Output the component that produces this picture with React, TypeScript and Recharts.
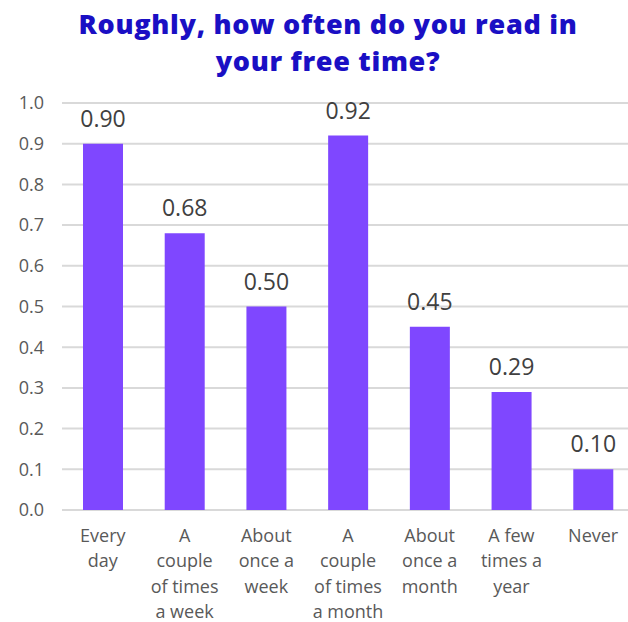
import React from "react";
import { BarChart, Bar, XAxis, YAxis, CartesianGrid, LabelList } from "recharts";

const categories = [
  "Every day",
  "A couple of times a week",
  "About once a week",
  "A couple of times a month",
  "About once a month",
  "A few times a year",
  "Never",
];
const categoryLines = [
  ["Every", "day"],
  ["A", "couple", "of times", "a week"],
  ["About", "once a", "week"],
  ["A", "couple", "of times", "a month"],
  ["About", "once a", "month"],
  ["A few", "times a", "year"],
  ["Never"],
];
const values = [0.9, 0.68, 0.5, 0.92, 0.45, 0.29, 0.1];
const yTicks = [0, 0.1, 0.2, 0.3, 0.4, 0.5, 0.6, 0.7, 0.8, 0.9, 1.0];
const titleLines = ["Roughly, how often do you read in", "your free time?"];

const data = categories.map((c, i) => ({ name: c, value: values[i], idx: i }));

const FONT = "'Open Sans', 'Noto Sans', sans-serif";

const XTick = (props: any) => {
  const { x, y, payload } = props;
  const idx = categories.indexOf(payload.value);
  const lines = categoryLines[idx] || [payload.value];
  return (
    <g>
      <text x={x} y={y} textAnchor="middle" fill="#595959" fontSize={18} fontFamily={FONT}>
        {lines.map((l, i) => (
          <tspan key={i} x={x} dy={i === 0 ? 24 : 25.4}>
            {l}
          </tspan>
        ))}
      </text>
    </g>
  );
};

export default function App() {
  return (
    <div
      style={{
        position: "fixed",
        left: 0,
        top: 0,
        width: 628,
        height: 622,
        overflow: "hidden",
        background: "#fff",
      }}
    >
      <div
        style={{
          position: "absolute",
          left: 28,
          top: 5,
          width: 600,
          textAlign: "center",
          fontFamily: FONT,
          fontWeight: 800,
          fontSize: 27,
          letterSpacing: 0.7,
          lineHeight: "37px",
          color: "#1A0FC4",
        }}
      >
        {titleLines.map((t, i) => (
          <div key={i}>{t}</div>
        ))}
      </div>
      <div style={{ position: "absolute", left: 0, top: 0 }}>
        <BarChart
          width={640}
          height={622}
          data={data}
          margin={{ top: 103, right: 6, bottom: 0, left: 0 }}
        >
          <CartesianGrid vertical={false} stroke="#d9d9d9" strokeWidth={2} />
          <YAxis
            domain={[0, 1]}
            ticks={yTicks}
            tickFormatter={(v: number) => v.toFixed(1)}
            axisLine={false}
            tickLine={false}
            width={62}
            tickMargin={12}
            interval={0}
            tick={{ fill: "#595959", fontSize: 18, fontFamily: FONT }}
          />
          <XAxis
            dataKey="name"
            axisLine={false}
            tickLine={false}
            height={112}
            interval={0}
            tick={<XTick />}
          />
          <Bar dataKey="value" fill="#7F47FF" barSize={40} isAnimationActive={false}>
            <LabelList
              dataKey="value"
              position="top"
              offset={17}
              formatter={(v: number) => v.toFixed(2)}
              fill="#404040"
              fontSize={23}
              fontFamily={FONT}
            />
          </Bar>
        </BarChart>
      </div>
    </div>
  );
}
